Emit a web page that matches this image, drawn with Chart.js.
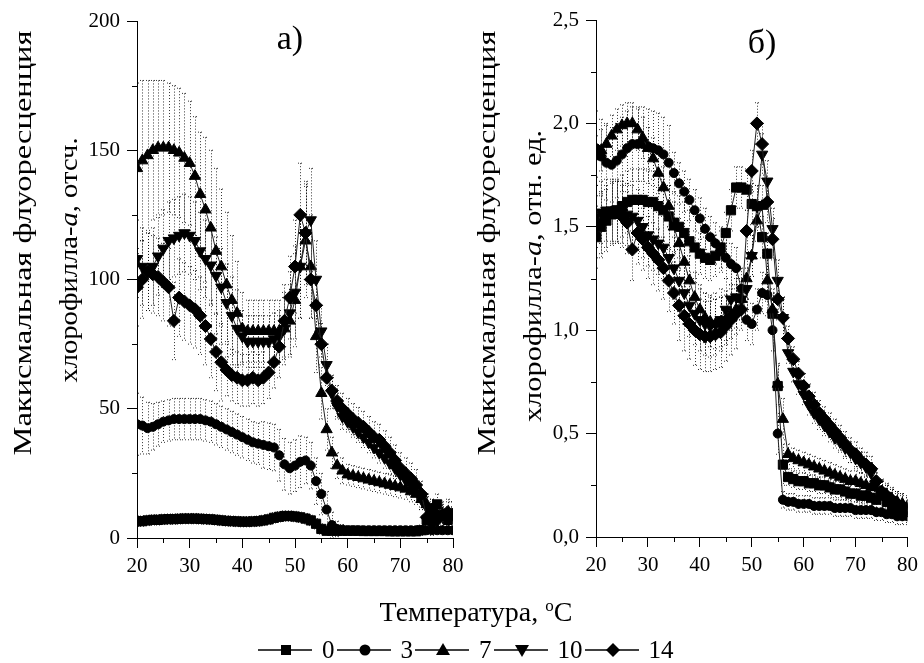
<!DOCTYPE html>
<html>
<head>
<meta charset="utf-8">
<script src="https://cdn.jsdelivr.net/npm/chart.js@4.4.0/dist/chart.umd.min.js"></script>
<style>
body{margin:0;background:#fff;}
#wrap{position:relative;width:924px;height:663px;overflow:hidden;color:#000;}
canvas{position:absolute;top:0;}
.yt{position:absolute;width:500px;height:30px;line-height:30px;text-align:center;white-space:nowrap;
    font-family:"Liberation Serif",serif;font-size:26px;}
.pl{position:absolute;width:60px;height:40px;line-height:40px;text-align:center;font-family:"Liberation Serif",serif;font-size:34px;}
#xt{position:absolute;left:276px;top:597px;width:400px;height:30px;line-height:30px;text-align:center;
    font-family:"Liberation Serif",serif;font-size:28px;}
#legend{position:absolute;left:258px;top:638px;height:24px;display:flex;align-items:center;
    font-family:"Liberation Serif",serif;font-size:25px;}
#legend .lb{margin:0 2px 0 10px;}
</style>
</head>
<body>
<div id="wrap">
  <canvas id="ca" width="480" height="600" style="left:0;width:480px;height:600px"></canvas>
  <canvas id="cb" width="444" height="600" style="left:480px;width:444px;height:600px"></canvas>
  <div class="yt" style="left:-227px;top:228px;transform:rotate(-90deg) scaleX(1.25)">Макисмальная флуоресценция</div>
  <div class="yt" style="left:-181px;top:245px;transform:rotate(-90deg) scaleX(1.1)">хлорофилла-<i>a</i>, отсч.</div>
  <div class="yt" style="left:237px;top:228px;transform:rotate(-90deg) scaleX(1.25)">Макисмальная флуоресценция</div>
  <div class="yt" style="left:283px;top:261px;transform:rotate(-90deg) scaleX(1.17)">хлорофилла-<i>a</i>, отн. ед.</div>
  <div class="pl" style="left:260px;top:18px">а)</div>
  <div class="pl" style="left:732px;top:22px">б)</div>
  <div id="xt">Температура, <span style="position:relative;top:-10px;font-size:17px">o</span>C</div>
  <div id="legend"></div>
</div>
<script>
// температура, °C
var temps = [20,21,22,23,24,25,26,27,28,29,30,31,32,33,34,35,36,37,38,39,40,41,42,43,44,45,46,47,48,49,
  50,51,52,53,54,55,56,57,58,59,60,61,62,63,64,65,66,67,68,69,70,71,72,73,74,75,76,77,78,79,80];
var seriesNames = ['0','3','7','10','14'];

// панель а), отсч.
var a0 = [6.5,6.5,6.8,7,7,7.2,7.3,7.3,7.4,7.5,
  7.5,7.5,7.4,7.3,7.2,7,6.8,6.6,6.5,6.4,
  6.3,6.3,6.4,6.5,6.8,7.2,7.8,8.2,8.5,8.5,
  8.3,8,7.5,6.8,5.5,3.5,2.8,2.8,2.8,2.8,
  2.8,2.8,2.8,2.7,2.7,2.7,2.7,2.7,2.6,2.6,
  2.6,2.6,2.6,2.6,3,7,11,13,9,7,
  9];
var a3 = [44,43.5,42.5,43,44,45,45.5,46,46,46,
  46,46,46,45.5,45,44,43,42,41,40,
  39,38,37,36.5,36,35.5,35,32,28.5,27,
  28,29.5,30,28,22,17,11,5,3.5,3.2,
  3,3,3,3,3,3,3,3,3,3,
  3,3,3,3,3,3,3,3,3,3,
  3];
var a7 = [143,146,148,150,151,151,151,150,149,147,
  145,140,133,127,120,111,105,98,92,87,
  81,80,80,80,80,80,80,80,81,84,
  92,105,115,105,78,56,42,33,28,26,
  24.5,24,23.5,23,22.5,22,21.5,21,20.5,20,
  19.5,19,18,17,15,13,11,9,8,8,
  8];
var a10 = [108,105,103,105,109,112,115,116,117,118,
  117,115,111,108,105.5,101.5,97,91,86,81,
  78,76,76,76,76,76,77,78,81,87,
  95,105,118,123,100,80,67,56,51,47,
  45,43,41,39,37,35,33,31,29,27,
  24.5,22.5,20.5,18.5,15,12,10,9,9,10,
  10];
var a14 = [97,100,103,102,101,99,97,84,93,91.5,
  90,88.5,86,82,77,72,68,65,63,62,
  61,61,62,61,62,64,68,74,84,93,
  105,125,118,100,90,75,62,57,53,50,
  48,46,44.5,43,41,39,38,35.5,33,30,
  27,25,23,20.5,17,8,6,7,9,10,
  9];
// погрешности а)
var ea0 = [2,2,2,2,2,2,2,2,2,2,
  2,2,2,2,2,2,2,2,2,2,
  2,2,2,2,2,2,2,2,2,2,
  2,2,2,2,2,2,1.5,1.5,1.5,1.5,
  1.5,1.5,1.5,1.5,1.5,1.5,1.5,1.5,1.5,1.5,
  1.5,1.5,1.5,1.5,2,3,4,4,3,3,
  3];
var ea3 = [12,11,10,9,8.5,8,8,8,8,8,
  8,8,8,8,8,8,8,8,8,8,
  8,8,8,8,9,9,9,10,10,10,
  10,10,9,9,9,8,7,5,3,2,
  1.5,1.5,1.5,1.5,1.5,1.5,1.5,1.5,1.5,1.5,
  1.5,1.5,1.5,1.5,1.5,1.5,1.5,1.5,1.5,1.5,
  1.5];
var ea7 = [33,31,29,27,26,26,25,25,25,25,
  24,23,24,28,30,32,30,28,25,20,
  14,12,12,12,12,12,12,12,12,14,
  18,20,22,20,14,10,8,6,5,5,
  4,4,4,4,4,4,4,4,4,4,
  4,4,4,4,4,4,4,4,4,4,
  4];
var ea10 = [15,15,15,15,15,15,15,15,15,15,
  15,15,15,15,15,15,15,15,15,15,
  10,10,10,10,10,10,10,10,14,16,
  18,20,20,20,15,10,8,6,5,5,
  4,4,4,4,4,4,4,4,4,4,
  4,4,4,4,4,4,4,4,4,4,
  4];
var ea14 = [15,15,15,15,15,15,15,15,15,15,
  15,15,15,15,15,15,15,10,10,10,
  10,10,10,10,10,10,10,12,14,16,
  18,20,18,15,10,8,6,6,6,6,
  6,6,6,6,6,6,6,6,6,6,
  6,6,6,6,5,5,5,5,5,5,
  5];

// панель б), отн. ед.
var b0 = [1.45,1.5,1.53,1.56,1.58,1.6,1.62,1.63,1.63,1.63,
  1.62,1.62,1.6,1.58,1.55,1.52,1.5,1.47,1.43,1.4,
  1.37,1.35,1.34,1.36,1.4,1.47,1.58,1.69,1.69,1.68,
  1.61,1.6,1.45,1.37,1.08,0.73,0.35,0.29,0.28,0.27,
  0.27,0.26,0.26,0.25,0.25,0.24,0.23,0.23,0.22,0.21,
  0.21,0.2,0.2,0.19,0.18,0.2,0.17,0.15,0.14,0.13,
  0.12];
var b3 = [1.88,1.84,1.81,1.8,1.82,1.85,1.88,1.9,1.9,1.9,
  1.89,1.88,1.87,1.85,1.81,1.76,1.71,1.67,1.63,1.58,
  1.54,1.49,1.45,1.42,1.38,1.35,1.32,1.3,1.2,1.05,
  1.03,1.1,1.18,1.17,1.0,0.5,0.18,0.17,0.17,0.16,
  0.16,0.16,0.15,0.15,0.15,0.15,0.14,0.14,0.14,0.14,
  0.13,0.13,0.13,0.13,0.12,0.12,0.11,0.11,0.1,0.1,
  0.1];
var b7 = [1.84,1.87,1.9,1.94,1.97,1.99,2.0,2.0,1.97,1.93,
  1.88,1.83,1.76,1.69,1.6,1.5,1.42,1.33,1.24,1.16,
  1.1,1.06,1.04,1.03,1.04,1.05,1.08,1.1,1.15,1.25,
  1.36,1.53,1.6,1.24,1.1,0.74,0.57,0.4,0.38,0.37,
  0.36,0.35,0.34,0.33,0.32,0.31,0.3,0.29,0.28,0.27,
  0.27,0.26,0.25,0.24,0.24,0.22,0.2,0.18,0.17,0.16,
  0.15];
var b10 = [1.55,1.57,1.58,1.58,1.57,1.57,1.56,1.55,1.53,1.5,
  1.46,1.44,1.42,1.4,1.35,1.3,1.24,1.18,1.12,1.08,
  1.05,1.03,1.02,1.03,1.05,1.1,1.15,1.16,1.15,1.2,
  1.36,1.6,1.85,1.72,1.49,1.24,1.06,0.89,0.8,0.74,
  0.69,0.64,0.6,0.57,0.54,0.51,0.48,0.46,0.43,0.41,
  0.38,0.36,0.34,0.31,0.26,0.22,0.2,0.18,0.16,0.15,
  0.14];
var b14 = [1.5,1.52,1.55,1.57,1.57,1.55,1.52,1.39,1.47,1.44,
  1.4,1.37,1.34,1.3,1.24,1.18,1.12,1.07,1.03,1.0,
  0.98,0.97,0.97,0.98,0.99,1.02,1.05,1.08,1.1,1.48,
  1.77,2.0,1.9,1.62,1.44,1.15,1.06,0.96,0.86,0.79,
  0.73,0.68,0.64,0.6,0.57,0.54,0.51,0.48,0.45,0.42,
  0.4,0.37,0.35,0.33,0.27,0.22,0.2,0.18,0.16,0.15,
  0.13];
// погрешности б)
var eb0 = [0.15,0.15,0.15,0.15,0.15,0.15,0.15,0.15,0.15,0.15,
  0.15,0.15,0.15,0.15,0.15,0.15,0.15,0.15,0.15,0.15,
  0.1,0.1,0.1,0.1,0.1,0.1,0.1,0.1,0.1,0.1,
  0.1,0.1,0.1,0.1,0.1,0.1,0.1,0.04,0.04,0.04,
  0.04,0.04,0.04,0.04,0.04,0.04,0.04,0.04,0.04,0.04,
  0.04,0.04,0.04,0.04,0.04,0.04,0.04,0.04,0.04,0.04,
  0.04];
var eb3 = [0.18,0.18,0.18,0.18,0.18,0.18,0.18,0.18,0.18,0.18,
  0.18,0.18,0.18,0.18,0.18,0.1,0.1,0.1,0.1,0.1,
  0.1,0.1,0.1,0.1,0.1,0.1,0.1,0.1,0.1,0.1,
  0.1,0.1,0.1,0.1,0.1,0.1,0.04,0.04,0.04,0.04,
  0.04,0.04,0.04,0.04,0.04,0.04,0.04,0.04,0.04,0.04,
  0.04,0.04,0.04,0.04,0.04,0.04,0.04,0.04,0.04,0.04,
  0.04];
var eb7 = [0.1,0.1,0.1,0.1,0.1,0.1,0.1,0.1,0.1,0.1,
  0.1,0.1,0.1,0.1,0.1,0.12,0.12,0.12,0.12,0.12,
  0.12,0.12,0.12,0.12,0.12,0.12,0.12,0.12,0.1,0.1,
  0.1,0.1,0.1,0.1,0.1,0.1,0.1,0.05,0.05,0.05,
  0.05,0.05,0.05,0.05,0.05,0.05,0.05,0.05,0.05,0.05,
  0.05,0.05,0.05,0.05,0.05,0.05,0.05,0.05,0.05,0.05,
  0.05];
var eb10 = [0.15,0.15,0.15,0.15,0.15,0.15,0.15,0.15,0.15,0.15,
  0.15,0.15,0.15,0.15,0.15,0.15,0.15,0.15,0.15,0.15,
  0.15,0.15,0.15,0.15,0.15,0.15,0.15,0.15,0.1,0.1,
  0.1,0.1,0.1,0.1,0.1,0.1,0.1,0.05,0.05,0.05,
  0.05,0.05,0.05,0.05,0.05,0.05,0.05,0.05,0.05,0.05,
  0.05,0.05,0.05,0.05,0.05,0.05,0.05,0.05,0.05,0.05,
  0.05];
var eb14 = [0.15,0.15,0.15,0.15,0.15,0.15,0.15,0.15,0.15,0.15,
  0.15,0.15,0.15,0.15,0.15,0.15,0.17,0.17,0.17,0.17,
  0.17,0.17,0.17,0.17,0.17,0.17,0.17,0.17,0.1,0.1,
  0.1,0.1,0.1,0.1,0.1,0.1,0.1,0.06,0.06,0.06,
  0.06,0.06,0.06,0.06,0.06,0.06,0.06,0.06,0.06,0.06,
  0.06,0.06,0.06,0.06,0.06,0.06,0.06,0.06,0.06,0.06,
  0.06];

var markers = [
  {style:'rect', r:6.5, rot:0},
  {style:'circle', r:4.5, rot:0},
  {style:'triangle', r:6.5, rot:0},
  {style:'triangle', r:6.5, rot:180},
  {style:'rectRot', r:6.5, rot:0}
];
var tickFont = {family:'"Liberation Serif"', size:21};

function makeDatasets(series){
  return series.map(function(vals, k){
    return {
      label: seriesNames[k],
      data: temps.map(function(t, i){ return {x:t, y:vals[i]}; }),
      showLine: true,
      borderColor: '#222',
      borderWidth: 1,
      pointStyle: markers[k].style,
      pointRadius: markers[k].r,
      pointRotation: markers[k].rot,
      pointBackgroundColor: '#000',
      pointBorderColor: '#000',
      pointBorderWidth: 1,
      clip: 0,
      order: 5 - k
    };
  });
}

// пунктирные планки погрешностей
function errorBars(errs){
  return {
    id: 'errorBars',
    beforeDatasetsDraw: function(chart){
      var ctx = chart.ctx, x = chart.scales.x, y = chart.scales.y, a = chart.chartArea;
      ctx.save();
      ctx.beginPath();
      ctx.rect(a.left, a.top, a.right - a.left, a.bottom - a.top);
      ctx.clip();
      ctx.strokeStyle = 'rgba(0,0,0,0.8)';
      ctx.lineWidth = 1;
      ctx.setLineDash([1, 2]);
      chart.data.datasets.forEach(function(ds, k){
        ds.data.forEach(function(p, i){
          var e = errs[k][i];
          var px = Math.round(x.getPixelForValue(p.x)) + 0.5;
          var t = y.getPixelForValue(p.y + e), b = y.getPixelForValue(p.y - e);
          ctx.beginPath();
          ctx.moveTo(px, t); ctx.lineTo(px, b);
          ctx.moveTo(px - 2.5, t); ctx.lineTo(px + 2.5, t);
          ctx.moveTo(px - 2.5, b); ctx.lineTo(px + 2.5, b);
          ctx.stroke();
        });
      });
      ctx.restore();
    }
  };
}

// короткие промежуточные штрихи осей
function minorTicks(ystep){
  return {
    id: 'minorTicks',
    afterDraw: function(chart){
      var ctx = chart.ctx, x = chart.scales.x, y = chart.scales.y, a = chart.chartArea;
      ctx.save();
      ctx.strokeStyle = '#000';
      ctx.lineWidth = 1;
      ctx.beginPath();
      for (var v = x.min + 5; v < x.max; v += 10) {
        var px = Math.round(x.getPixelForValue(v)) + 0.5;
        ctx.moveTo(px, a.bottom); ctx.lineTo(px, a.bottom + 5);
      }
      for (var w = y.min + ystep / 2; w < y.max; w += ystep) {
        var py = Math.round(y.getPixelForValue(w)) + 0.5;
        ctx.moveTo(a.left, py); ctx.lineTo(a.left - 5, py);
      }
      ctx.stroke();
      ctx.restore();
    }
  };
}

function makeChart(id, series, errs, ymax, ystep, yfmt, yw, padR, padT, xh){
  return new Chart(document.getElementById(id), {
    type: 'scatter',
    data: {datasets: makeDatasets(series)},
    options: {
      responsive: false,
      animation: false,
      devicePixelRatio: 1,
      layout: {padding: {top: padT, right: padR, left: 0, bottom: 0}},
      plugins: {legend: {display: false}, tooltip: {enabled: false}},
      scales: {
        x: {
          type: 'linear', min: 20, max: 80,
          ticks: {stepSize: 10, color: '#000', font: tickFont, padding: 6, maxRotation: 0, autoSkip: false},
          grid: {drawOnChartArea: false, tickLength: 10, color: '#000'},
          border: {color: '#000'},
          afterFit: function(s){ s.height = xh; }
        },
        y: {
          type: 'linear', min: 0, max: ymax,
          ticks: {stepSize: ystep, color: '#000', font: tickFont, padding: 7, callback: yfmt},
          grid: {drawOnChartArea: false, tickLength: 10, color: '#000'},
          border: {color: '#000'},
          afterFit: function(s){ s.width = yw; }
        }
      }
    },
    plugins: [errorBars(errs), minorTicks(ystep)]
  });
}

makeChart('ca', [a0, a3, a7, a10, a14], [ea0, ea3, ea7, ea10, ea14],
  200, 50, function(v){ return v; }, 137, 27, 21, 62);
makeChart('cb', [b0, b3, b7, b10, b14], [eb0, eb3, eb7, eb10, eb14],
  2.5, 0.5, function(v){ return v.toFixed(1).replace('.', ','); }, 116, 13, 20, 63);

// легенда: линия — маркер — линия, подпись
var svgNS = 'http://www.w3.org/2000/svg';
var legend = document.getElementById('legend');
seriesNames.forEach(function(name, k){
  var svg = document.createElementNS(svgNS, 'svg');
  svg.setAttribute('width', '54'); svg.setAttribute('height', '20');
  var ln = document.createElementNS(svgNS, 'line');
  ln.setAttribute('x1', '0'); ln.setAttribute('y1', '10'); ln.setAttribute('x2', '54'); ln.setAttribute('y2', '10');
  ln.setAttribute('stroke', '#000'); ln.setAttribute('stroke-width', '1.5');
  svg.appendChild(ln);
  var sh, cx = 28, cy = 10;
  if (k === 0) {
    sh = document.createElementNS(svgNS, 'rect');
    sh.setAttribute('x', cx - 5); sh.setAttribute('y', cy - 5); sh.setAttribute('width', 10); sh.setAttribute('height', 10);
  } else if (k === 1) {
    sh = document.createElementNS(svgNS, 'circle');
    sh.setAttribute('cx', cx); sh.setAttribute('cy', cy); sh.setAttribute('r', 5.5);
  } else {
    var pts;
    if (k === 2) pts = [[cx, cy - 7], [cx + 7, cy + 5], [cx - 7, cy + 5]];
    else if (k === 3) pts = [[cx - 7, cy - 5], [cx + 7, cy - 5], [cx, cy + 7]];
    else pts = [[cx, cy - 7], [cx + 7, cy], [cx, cy + 7], [cx - 7, cy]];
    sh = document.createElementNS(svgNS, 'polygon');
    sh.setAttribute('points', pts.map(function(p){ return p.join(','); }).join(' '));
  }
  sh.setAttribute('fill', '#000');
  svg.appendChild(sh);
  legend.appendChild(svg);
  var lb = document.createElement('span');
  lb.className = 'lb';
  lb.textContent = name;
  legend.appendChild(lb);
});
</script>
</body>
</html>
